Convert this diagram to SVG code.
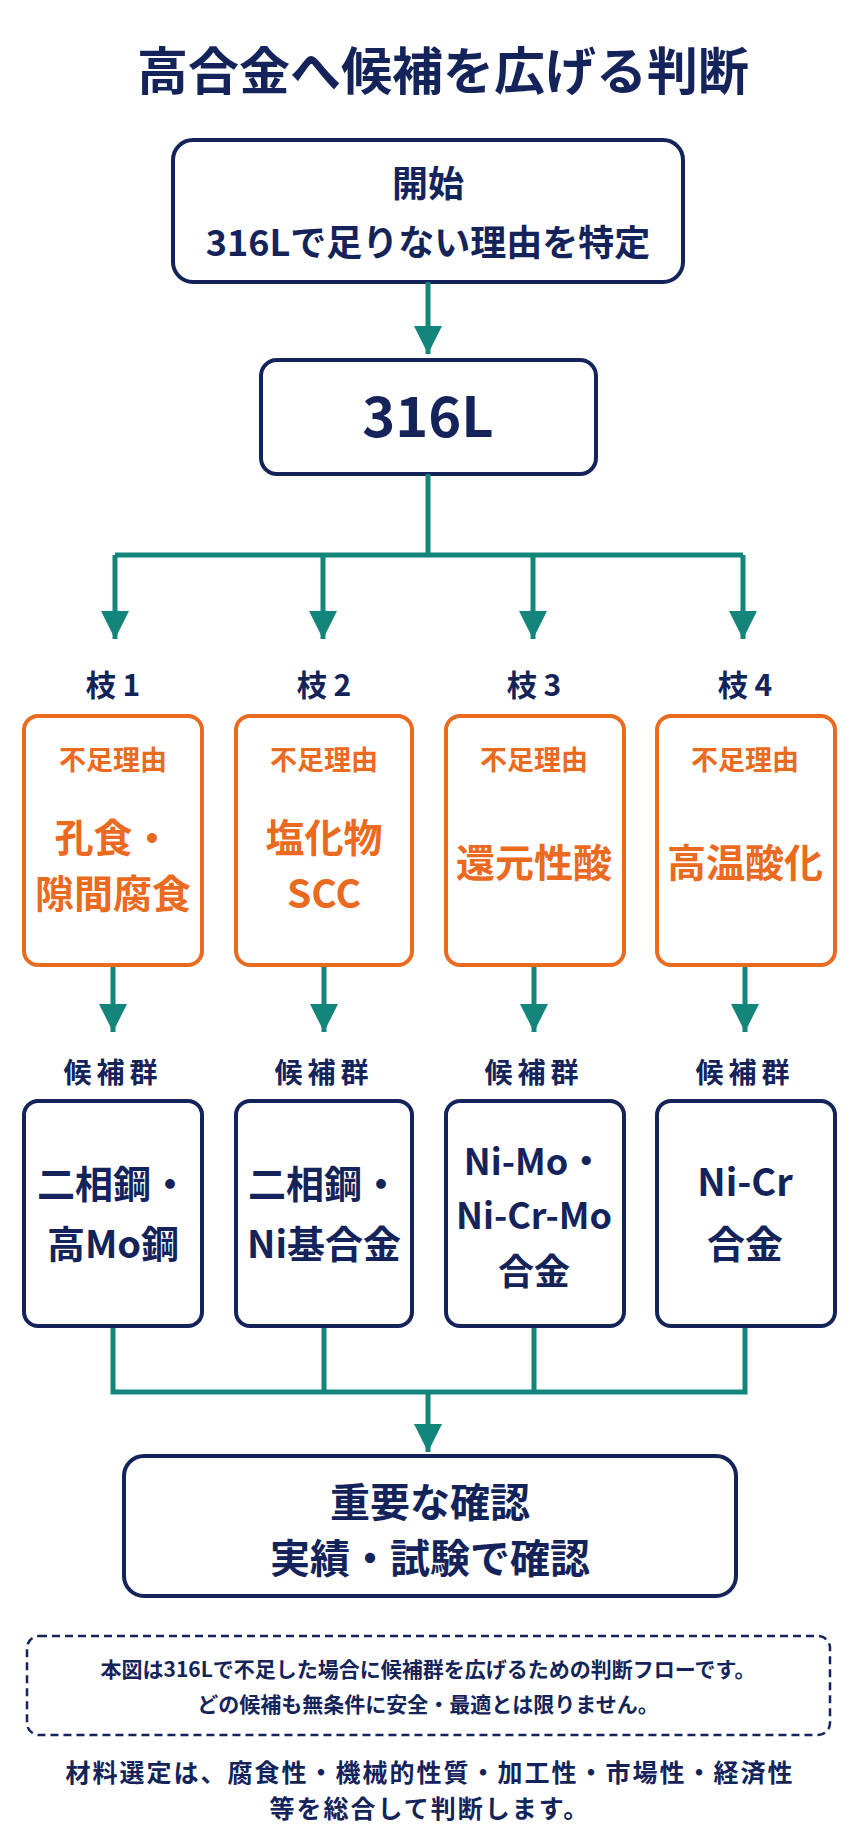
<svg xmlns="http://www.w3.org/2000/svg" width="856" height="1836" viewBox="0 0 856 1836">
<style>
text{font-family:"Noto Sans CJK JP","Noto Sans",sans-serif;font-weight:700;text-anchor:middle}
.n{fill:#14245A}.o{fill:#EA6A1F}
.nb{fill:#fff;stroke:#14245A;stroke-width:4}
.ob{fill:#fff;stroke:#EA6A1F;stroke-width:4}
.c{stroke:#13857B;stroke-width:5;fill:none}
</style>
<defs><marker id="a" viewBox="0 0 10 10" refX="10" refY="5" markerWidth="6.4" markerHeight="5.6" markerUnits="strokeWidth" orient="auto"><path d="M0,0L10,5L0,10z" fill="#13857B"/></marker></defs>
<rect width="856" height="1836" fill="#fff"/>
<text x="443" y="90" class="n" font-size="51">高合金へ候補を広げる判断</text>
<g id="start"><rect class="nb" x="173" y="140" width="510" height="142" rx="20"/>
<text x="428" y="197" class="n" font-size="36">開始</text><text x="428" y="256" class="n" font-size="36">316Lで足りない理由を特定</text></g>
<g id="n316"><rect class="nb" x="261" y="360" width="335" height="114" rx="16"/><text x="428" y="437" class="n" font-size="56">316L</text></g>
<g id="connectors">
<path class="c" d="M428,282V354" marker-end="url(#a)"/>
<path class="c" d="M428,474V555M115,555H743"/>
<path class="c" d="M115,555V639" marker-end="url(#a)"/><path class="c" d="M323,555V639" marker-end="url(#a)"/>
<path class="c" d="M533,555V639" marker-end="url(#a)"/><path class="c" d="M743,555V639" marker-end="url(#a)"/>
<path class="c" d="M113,965V1032" marker-end="url(#a)"/><path class="c" d="M324,965V1032" marker-end="url(#a)"/>
<path class="c" d="M534,965V1032" marker-end="url(#a)"/><path class="c" d="M745,965V1032" marker-end="url(#a)"/>
<path class="c" d="M113,1326V1392H745V1326M324,1326V1392M534,1326V1392"/>
<path class="c" d="M428,1392V1452" marker-end="url(#a)"/>
</g>
<g id="b1"><text x="113" y="696" class="n" font-size="30">枝 1</text><rect class="ob" x="24" y="716" width="178" height="249" rx="14"/>
<text x="113" y="770" class="o" font-size="27">不足理由</text><text x="113" y="852" class="o" font-size="39">孔食・</text><text x="113" y="908" class="o" font-size="39">隙間腐食</text></g>
<g id="b2"><text x="324" y="696" class="n" font-size="30">枝 2</text><rect class="ob" x="236" y="716" width="176" height="249" rx="14"/>
<text x="324" y="770" class="o" font-size="27">不足理由</text><text x="324" y="852" class="o" font-size="39">塩化物</text><text x="324" y="908" class="o" font-size="39">SCC</text></g>
<g id="b3"><text x="534" y="696" class="n" font-size="30">枝 3</text><rect class="ob" x="446" y="716" width="178" height="249" rx="14"/>
<text x="534" y="770" class="o" font-size="27">不足理由</text><text x="534" y="877" class="o" font-size="39">還元性酸</text></g>
<g id="b4"><text x="745" y="696" class="n" font-size="30">枝 4</text><rect class="ob" x="657" y="716" width="178" height="249" rx="14"/>
<text x="745" y="770" class="o" font-size="27">不足理由</text><text x="745" y="877" class="o" font-size="39">高温酸化</text></g>
<g id="c1"><text x="113" y="1083" class="n" font-size="28" letter-spacing="5">候補群</text><rect class="nb" x="24" y="1101" width="178" height="225" rx="14"/>
<text x="113" y="1198" class="n" font-size="38">二相鋼・</text><text x="113" y="1258" class="n" font-size="38">高Mo鋼</text></g>
<g id="c2"><text x="324" y="1083" class="n" font-size="28" letter-spacing="5">候補群</text><rect class="nb" x="236" y="1101" width="176" height="225" rx="14"/>
<text x="324" y="1198" class="n" font-size="38">二相鋼・</text><text x="324" y="1258" class="n" font-size="38">Ni基合金</text></g>
<g id="c3"><text x="534" y="1083" class="n" font-size="28" letter-spacing="5">候補群</text><rect class="nb" x="446" y="1101" width="178" height="225" rx="14"/>
<text x="534" y="1175" class="n" font-size="36">Ni-Mo・</text><text x="534" y="1229" class="n" font-size="36">Ni-Cr-Mo</text><text x="534" y="1285" class="n" font-size="36">合金</text></g>
<g id="c4"><text x="745" y="1083" class="n" font-size="28" letter-spacing="5">候補群</text><rect class="nb" x="657" y="1101" width="178" height="225" rx="14"/>
<text x="745" y="1196" class="n" font-size="38">Ni-Cr</text><text x="745" y="1258" class="n" font-size="38">合金</text></g>
<g id="final"><rect class="nb" x="124" y="1456" width="612" height="140" rx="20"/>
<text x="430" y="1517" class="n" font-size="40">重要な確認</text><text x="430" y="1573" class="n" font-size="40">実績・試験で確認</text></g>
<g id="note"><rect x="27" y="1636" width="803" height="99" rx="12" fill="none" stroke="#14245A" stroke-width="2.5" stroke-dasharray="8,5"/>
<text x="428" y="1677" class="n" font-size="21" font-weight="500">本図は316Lで不足した場合に候補群を広げるための判断フローです。</text>
<text x="428" y="1712" class="n" font-size="21" font-weight="500">どの候補も無条件に安全・最適とは限りません。</text></g>
<text x="430" y="1782" class="n" font-size="25" letter-spacing="2">材料選定は、腐食性・機械的性質・加工性・市場性・経済性</text>
<text x="430" y="1818" class="n" font-size="25" letter-spacing="2">等を総合して判断します。</text>
</svg>
